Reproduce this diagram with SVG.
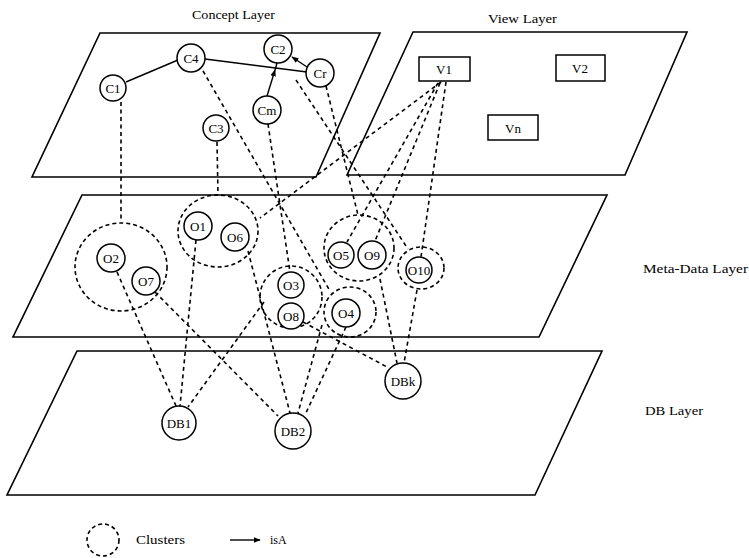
<svg xmlns="http://www.w3.org/2000/svg" width="749" height="558" viewBox="0 0 749 558">
<defs>
<marker id="arr" viewBox="0 0 10 10" refX="9" refY="5" markerWidth="7" markerHeight="7" orient="auto" markerUnits="userSpaceOnUse">
<path d="M0,1 L10,5 L0,9 z" fill="#000"/>
</marker>
</defs>
<style>
.plane{fill:none;stroke:#000;stroke-width:1.6}
.node{fill:#fff;stroke:#000;stroke-width:1.5}
.box{fill:#fff;stroke:#000;stroke-width:1.5}
.clu{fill:none;stroke:#000;stroke-width:1.6;stroke-dasharray:4 3}
.dash{fill:none;stroke:#000;stroke-width:1.6;stroke-dasharray:4 3.5}
.solid{fill:none;stroke:#000;stroke-width:1.4}
.t{font-family:"Liberation Serif","DejaVu Serif",serif;font-size:13px;fill:#000;text-anchor:middle;dominant-baseline:central}
.lbl{font-family:"Liberation Serif","DejaVu Serif",serif;font-size:12px;fill:#000}
</style>
<rect width="749" height="558" fill="#fff"/>

<g id="layers">
<polygon class="plane" points="100,33 380,33 316,177 32,177"/>
<polygon class="plane" points="413,32 687,32 625,175 347,175"/>
<polygon class="plane" points="82,195 607,195 539,337 13,337"/>
<polygon class="plane" points="77,351 602,351 535,495 7,495"/>
<text class="lbl" x="192" y="19" textLength="83" lengthAdjust="spacingAndGlyphs">Concept Layer</text>
<text class="lbl" x="488" y="23" textLength="69" lengthAdjust="spacingAndGlyphs">View Layer</text>
<text class="lbl" x="643" y="273" textLength="105" lengthAdjust="spacingAndGlyphs">Meta-Data Layer</text>
<text class="lbl" x="645" y="415" textLength="58" lengthAdjust="spacingAndGlyphs">DB Layer</text>
</g>

<g id="clusters">
<ellipse id="clusterA" class="clu" cx="121" cy="267" rx="46" ry="44"/>
<ellipse id="clusterB" class="clu" cx="218" cy="231" rx="40" ry="36"/>
<ellipse id="clusterC" class="clu" cx="291" cy="297" rx="31" ry="31"/>
<ellipse id="clusterD" class="clu" cx="350" cy="312" rx="26" ry="25"/>
<ellipse id="clusterE" class="clu" cx="359" cy="248" rx="35" ry="33"/>
<ellipse id="clusterF" class="clu" cx="421" cy="268" rx="23" ry="21"/>
</g>

<g id="connectors">
<line class="solid" x1="126" y1="82" x2="178" y2="60"/>
<line class="solid" x1="205" y1="59" x2="307" y2="72"/>
<line class="solid" x1="267" y1="96" x2="275" y2="70" marker-end="url(#arr)"/>
<line class="solid" x1="275" y1="70" x2="277" y2="63"/>
<line class="solid" x1="307" y1="67" x2="292" y2="57" marker-end="url(#arr)"/>

<line class="dash" x1="121" y1="102" x2="121" y2="222"/>
<line class="dash" x1="217" y1="142" x2="218" y2="195"/>
<line class="dash" x1="203" y1="71" x2="330" y2="291"/>
<line class="dash" x1="268" y1="124" x2="290" y2="272"/>
<line class="dash" x1="296" y1="80" x2="408" y2="249"/>
<line class="dash" x1="326" y1="86" x2="358" y2="215"/>
<line class="dash" x1="441" y1="82" x2="260" y2="218"/>
<line class="dash" x1="438" y1="83" x2="347" y2="242"/>
<line class="dash" x1="440" y1="83" x2="375" y2="241"/>
<line class="dash" x1="446" y1="82" x2="421" y2="257"/>

<line class="dash" x1="117" y1="272" x2="176" y2="406"/>
<line class="dash" x1="196" y1="240" x2="180" y2="406"/>
<line class="dash" x1="264" y1="302" x2="188" y2="407"/>
<line class="dash" x1="155" y1="292" x2="278" y2="416"/>
<line class="dash" x1="248" y1="251" x2="290" y2="413"/>
<line class="dash" x1="322" y1="325" x2="298" y2="413"/>
<line class="dash" x1="346" y1="327" x2="305" y2="415"/>
<line class="dash" x1="303" y1="322" x2="389" y2="368"/>
<line class="dash" x1="380" y1="279" x2="397" y2="363"/>
<line class="dash" x1="417" y1="290" x2="404" y2="363"/>
</g>

<g id="C1"><circle class="node" cx="113" cy="88" r="13"/><text class="t" x="113" y="88">C1</text></g>
<g id="C4"><circle class="node" cx="191" cy="58" r="14"/><text class="t" x="191" y="58">C4</text></g>
<g id="C2"><circle class="node" cx="278" cy="49" r="14"/><text class="t" x="278" y="49">C2</text></g>
<g id="Cr"><circle class="node" cx="320" cy="73" r="14"/><text class="t" x="320" y="73">Cr</text></g>
<g id="Cm"><circle class="node" cx="267" cy="110" r="14"/><text class="t" x="267" y="110">Cm</text></g>
<g id="C3"><circle class="node" cx="216" cy="128" r="13"/><text class="t" x="216" y="128">C3</text></g>

<g id="V1"><rect class="box" x="419" y="57" width="51" height="24"/><text class="t" x="444" y="69">V1</text></g>
<g id="V2"><rect class="box" x="556" y="55" width="49" height="26"/><text class="t" x="580" y="68">V2</text></g>
<g id="Vn"><rect class="box" x="488" y="115" width="50" height="25"/><text class="t" x="513" y="128">Vn</text></g>

<g id="O2"><circle class="node" cx="111" cy="258" r="14"/><text class="t" x="111" y="258">O2</text></g>
<g id="O7"><circle class="node" cx="146" cy="281" r="14"/><text class="t" x="146" y="281">O7</text></g>
<g id="O1"><circle class="node" cx="198" cy="226" r="14"/><text class="t" x="198" y="226">O1</text></g>
<g id="O6"><circle class="node" cx="235" cy="237" r="14"/><text class="t" x="235" y="237">O6</text></g>
<g id="O3"><circle class="node" cx="291" cy="285" r="13"/><text class="t" x="291" y="285">O3</text></g>
<g id="O8"><circle class="node" cx="291" cy="316" r="13"/><text class="t" x="291" y="316">O8</text></g>
<g id="O4"><circle class="node" cx="346" cy="313" r="14"/><text class="t" x="346" y="313">O4</text></g>
<g id="O5"><circle class="node" cx="341" cy="255" r="13"/><text class="t" x="341" y="255">O5</text></g>
<g id="O9"><circle class="node" cx="372" cy="255" r="14"/><text class="t" x="372" y="255">O9</text></g>
<g id="O10"><circle class="node" cx="419" cy="270" r="13"/><text class="t" x="419" y="270">O10</text></g>

<g id="DB1"><circle class="node" cx="179" cy="423" r="17"/><text class="t" x="179" y="423">DB1</text></g>
<g id="DB2"><circle class="node" cx="293" cy="431" r="18"/><text class="t" x="293" y="431">DB2</text></g>
<g id="DBk"><circle class="node" cx="403" cy="381" r="18"/><text class="t" x="403" y="381">DBk</text></g>

<g id="legend">
<ellipse class="clu" cx="103" cy="540" rx="16" ry="16"/>
<text class="lbl" x="136" y="544" textLength="49" lengthAdjust="spacingAndGlyphs">Clusters</text>
<line class="solid" x1="230" y1="540" x2="260" y2="540" marker-end="url(#arr)"/>
<text class="lbl" x="270" y="544">isA</text>
</g>
</svg>
